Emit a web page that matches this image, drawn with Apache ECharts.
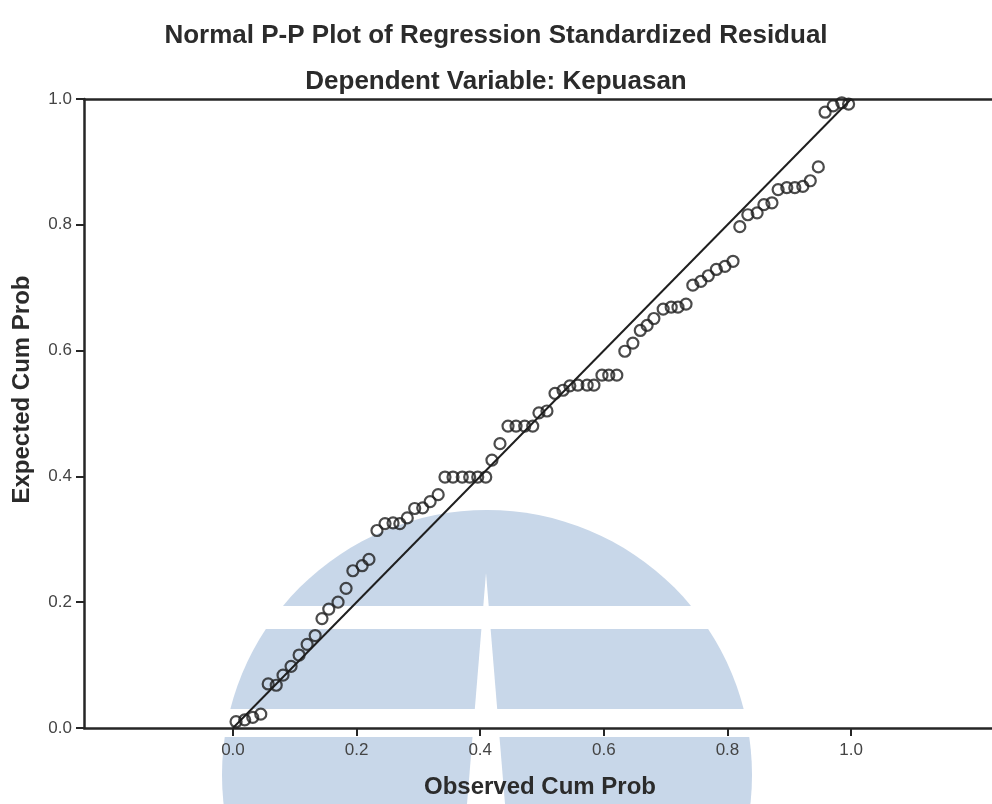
<!DOCTYPE html>
<html>
<head>
<meta charset="utf-8">
<script src="https://cdn.jsdelivr.net/npm/echarts@6/dist/echarts.min.js"></script>
<style>html,body{margin:0;padding:0;background:#fff}#c{width:992px;height:804px}</style>
</head>
<body>
<div id="c"></div>
<script>
// Observed vs expected cumulative probabilities
const observedCumProb = [
  0.005, 0.019, 0.032, 0.045, 0.057, 0.070, 0.081, 0.094, 0.107, 0.120,
  0.133, 0.144, 0.155, 0.170, 0.183, 0.194, 0.209, 0.220, 0.233, 0.246,
  0.259, 0.270, 0.282, 0.294, 0.307, 0.319, 0.332, 0.343, 0.356, 0.371,
  0.383, 0.396, 0.409, 0.419, 0.432, 0.445, 0.458, 0.472, 0.485, 0.495,
  0.508, 0.521, 0.534, 0.545, 0.558, 0.573, 0.584, 0.597, 0.608, 0.621,
  0.634, 0.647, 0.659, 0.670, 0.681, 0.696, 0.709, 0.720, 0.733, 0.744,
  0.757, 0.769, 0.782, 0.796, 0.809, 0.820, 0.833, 0.848, 0.859, 0.872,
  0.882, 0.896, 0.909, 0.922, 0.934, 0.947, 0.958, 0.971, 0.985, 0.996
];
const expectedCumProb = [
  0.010, 0.013, 0.017, 0.022, 0.070, 0.068, 0.084, 0.098, 0.116, 0.133,
  0.147, 0.174, 0.189, 0.200, 0.222, 0.250, 0.258, 0.268, 0.314, 0.325,
  0.326, 0.325, 0.334, 0.349, 0.350, 0.360, 0.371, 0.399, 0.399, 0.399,
  0.399, 0.399, 0.399, 0.426, 0.452, 0.480, 0.480, 0.480, 0.480, 0.501,
  0.504, 0.532, 0.537, 0.544, 0.545, 0.545, 0.545, 0.561, 0.561, 0.561,
  0.599, 0.612, 0.632, 0.640, 0.651, 0.666, 0.669, 0.669, 0.674, 0.704,
  0.710, 0.719, 0.729, 0.734, 0.742, 0.797, 0.816, 0.819, 0.832, 0.835,
  0.856, 0.859, 0.859, 0.861, 0.870, 0.892, 0.979, 0.989, 0.994, 0.992
];
// Reference (diagonal) line
const refLineX = [0, 1];
const refLineY = [0, 1];
// Tick labels
const xTickValues = [0.0, 0.2, 0.4, 0.6, 0.8, 1.0];
const yTickValues = [0.0, 0.2, 0.4, 0.6, 0.8, 1.0];

const titleText = 'Normal P-P Plot of Regression Standardized Residual';
const subtitleText = 'Dependent Variable: Kepuasan';

const chart = echarts.init(document.getElementById('c'), null, {renderer: 'canvas'});
const font = 'Liberation Sans, Arial, sans-serif';
const axisColor = '#262626';

const wmColor = '#c8d7e9';
const option = {
  backgroundColor: '#ffffff',
  animation: false,
  title: [
    {text: titleText, left: 'center', top: 18,
     textStyle: {fontFamily: font, fontSize: 26, fontWeight: 'bold', color: '#2b2b2b'}},
    {text: subtitleText, left: 'center', top: 64,
     textStyle: {fontFamily: font, fontSize: 26, fontWeight: 'bold', color: '#2b2b2b'}}
  ],
  graphic: [
    {type: 'circle', z: -10, silent: true, shape: {cx: 487, cy: 775, r: 265}, style: {fill: wmColor}},
    {type: 'rect', z: -9, silent: true, shape: {x: 200, y: 606, width: 600, height: 23}, style: {fill: '#ffffff'}},
    {type: 'rect', z: -9, silent: true, shape: {x: 200, y: 709, width: 600, height: 28}, style: {fill: '#ffffff'}},
    {type: 'polygon', z: -9, silent: true, shape: {points: [[486, 573], [467, 804], [505, 804]]}, style: {fill: '#ffffff'}}
  ],
  grid: {left: 84, right: 0, top: 99, bottom: 74, containLabel: false},
  xAxis: [
    {
      type: 'value', min: -0.241, max: 1.228, position: 'bottom',
      name: 'Observed Cum Prob', nameLocation: 'middle', nameGap: 47,
      nameTextStyle: {fontFamily: font, fontSize: 24, fontWeight: 'bold', color: '#2b2b2b', padding: [0, 0, 0, 4]},
      axisLine: {show: true, onZero: false, lineStyle: {color: axisColor, width: 2.5}},
      axisTick: {show: true, length: 8, customValues: xTickValues, lineStyle: {color: axisColor, width: 2}},
      axisLabel: {show: true, customValues: xTickValues, margin: 14, fontFamily: font, fontSize: 17, color: '#444',
                  formatter: v => v.toFixed(1)},
      splitLine: {show: false}
    },
    {
      type: 'value', min: -0.241, max: 1.228, position: 'top',
      axisLine: {show: true, onZero: false, lineStyle: {color: axisColor, width: 2.5}},
      axisTick: {show: false}, axisLabel: {show: false}, splitLine: {show: false}
    }
  ],
  yAxis: {
    type: 'value', min: 0, max: 1, interval: 0.2,
    name: 'Expected Cum Prob', nameLocation: 'middle', nameGap: 50,
    nameTextStyle: {fontFamily: font, fontSize: 24, fontWeight: 'bold', color: '#2b2b2b', padding: [0, 0, 0, 48]},
    axisLine: {show: true, onZero: false, lineStyle: {color: axisColor, width: 2.5}},
    axisTick: {show: true, length: 8, lineStyle: {color: axisColor, width: 2}},
    axisLabel: {margin: 12, fontFamily: font, fontSize: 17, color: '#444', formatter: v => v.toFixed(1)},
    splitLine: {show: false}
  },
  series: [
    {
      type: 'line', xAxisIndex: 0,
      data: refLineX.map((x, i) => [x, refLineY[i]]),
      symbol: 'none', lineStyle: {color: '#1f1f1f', width: 2}, z: 3, silent: true
    },
    {
      type: 'scatter', xAxisIndex: 0,
      data: observedCumProb.map((x, i) => [x, expectedCumProb[i]]),
      symbol: 'circle', symbolSize: 11,
      itemStyle: {color: 'rgba(0,0,0,0)', borderColor: '#1e1e1e', borderWidth: 2.2},
      z: 4
    }
  ]
};
chart.setOption(option);
</script>
</body>
</html>
